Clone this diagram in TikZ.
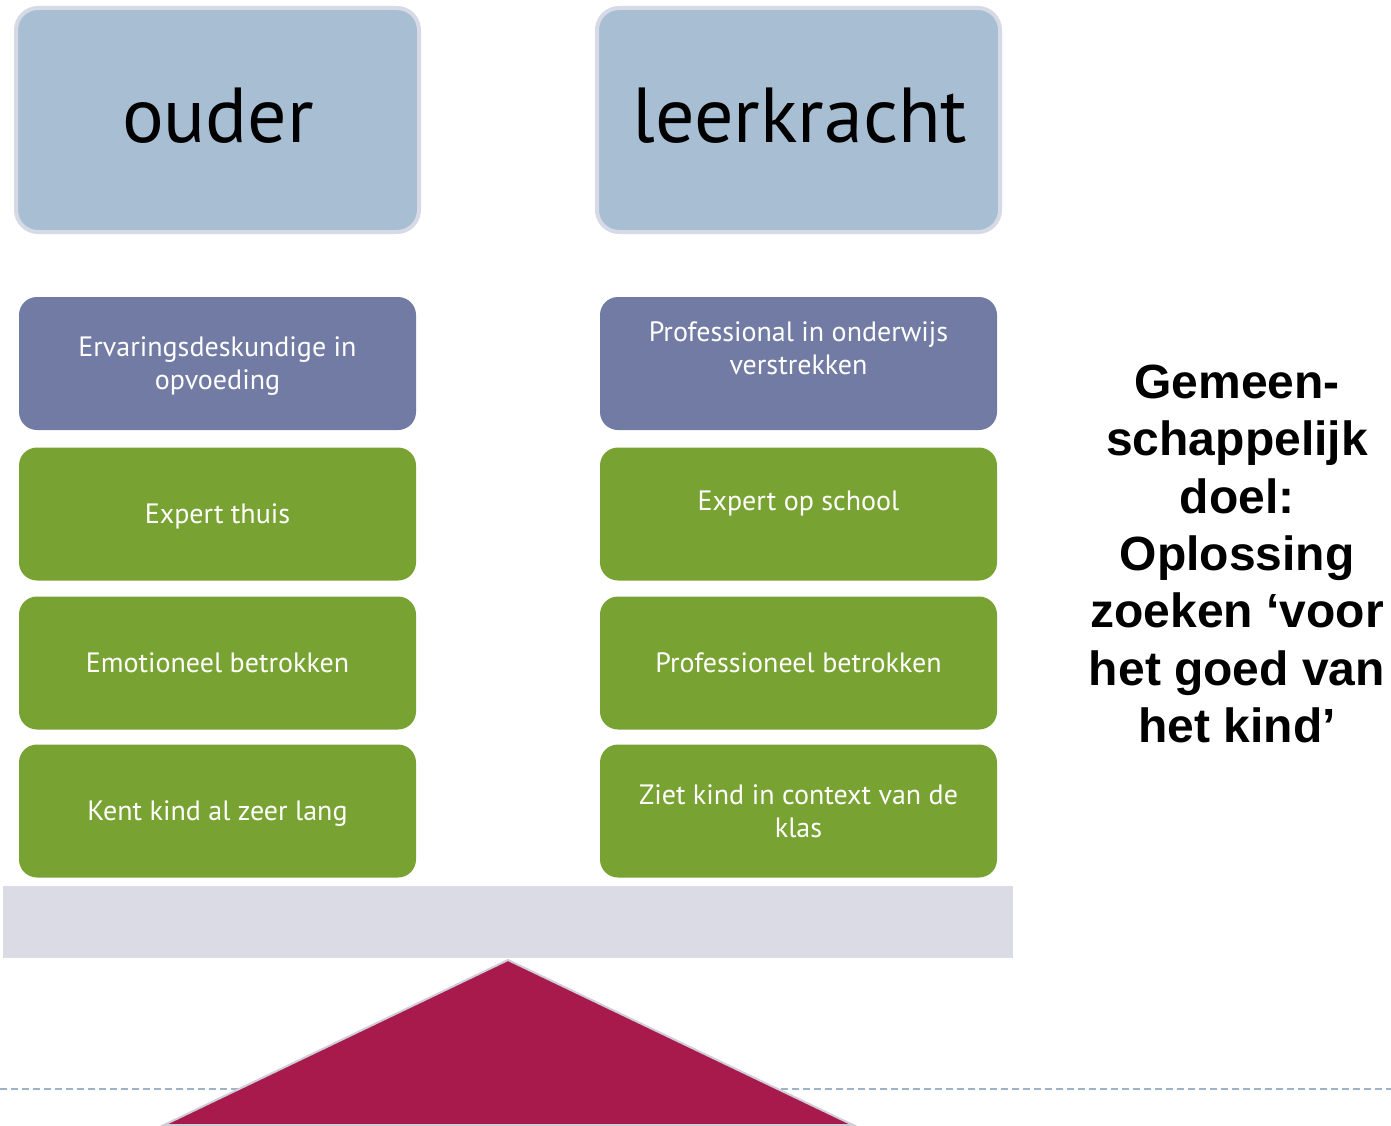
\documentclass[tikz,border=0pt]{standalone}
\usepackage{fontspec}
\setmainfont{PT Sans}
\newfontfamily\arialfont{Liberation Sans}
\definecolor{topfill}{HTML}{A8BED3}
\definecolor{topborder}{HTML}{D8D9E6}
\definecolor{purplebox}{HTML}{717BA3}
\definecolor{greenbox}{HTML}{78A232}
\definecolor{barfill}{HTML}{DADBE5}
\definecolor{trifill}{HTML}{A8194C}
\definecolor{triborder}{HTML}{D0CCD8}
\definecolor{dashcol}{HTML}{9FB3C8}
\begin{document}
\begin{tikzpicture}[x=1pt,y=-1pt,
  topbox/.style={draw=topborder, line width=4pt, fill=topfill, rounded corners=22pt, minimum width=403pt, minimum height=224pt, inner sep=0pt},
  toplabel/.style={anchor=base, inner sep=0pt, font=\fontsize{78}{90}\selectfont, text=black},
  midbox/.style={rounded corners=18pt, minimum width=397pt, minimum height=133pt, inner sep=0pt},
  pbox/.style={midbox, fill=purplebox},
  gbox/.style={midbox, fill=greenbox},
  midlabel/.style={inner sep=0pt, text=white, font=\fontsize{28}{33}\selectfont, align=center},
  goaltext/.style={inner sep=0pt, align=center, font=\arialfont\bfseries\fontsize{48}{57.3}\selectfont}
]
\useasboundingbox (0,0) rectangle (1391,1126);
% top boxes
\node[topbox] (ouderbox) at (217.5,120) {};
\node[topbox] (leerbox) at (798.5,120) {};
\node[toplabel] (ouder) at (218,143) {ouder};
\node[toplabel] (leer) at (800,143) {leerkracht};
% left column
\node[pbox] (l1) at (217.5,363.5) {};
\node[gbox] (l2) at (217.5,514) {};
\node[gbox] (l3) at (217.5,663) {};
\node[gbox] (l4) at (217.5,811) {};
% right column
\node[pbox] (r1) at (798.5,363.5) {};
\node[gbox] (r2) at (798.5,514) {};
\node[gbox] (r3) at (798.5,663) {};
\node[gbox] (r4) at (798.5,811) {};
% labels
\node[midlabel] (t1) at (217.5,366.5) {Ervaringsdeskundige in\\opvoeding};
\node[midlabel, anchor=base] (t2) at (217.5,523) {Expert thuis};
\node[midlabel, anchor=base] (t3) at (217.5,672) {Emotioneel betrokken};
\node[midlabel, anchor=base] (t4) at (217.5,820) {Kent kind al zeer lang};
\node[midlabel] (s1) at (798.5,348.5) {Professional in onderwijs\\verstrekken};
\node[midlabel, anchor=base] (s2) at (798.5,510) {Expert op school};
\node[midlabel, anchor=base] (s3) at (798.5,672) {Professioneel betrokken};
\node[midlabel] (s4) at (798.5,811) {Ziet kind in context van de\\klas};
% seesaw
\fill[barfill] (3,886) rectangle (1013,958);
\coordinate (dl) at (0,1089);
\coordinate (dr) at (1391,1089);
\draw[dashcol, line width=2pt, dash pattern=on 7pt off 4pt] (dl) -- (dr);
\coordinate (apex) at (508,960);
\coordinate (bl) at (164,1125);
\coordinate (br) at (853,1125);
\draw[triborder, line width=2pt, fill=trifill, line join=miter] (apex) -- (br) -- (bl) -- cycle;
% goal text
\node[goaltext] (goal) at (1237,554) {Gemeen-\\schappelijk\\doel:\\Oplossing\\zoeken ‘voor\\het goed van\\het kind’};
\end{tikzpicture}
\end{document}
